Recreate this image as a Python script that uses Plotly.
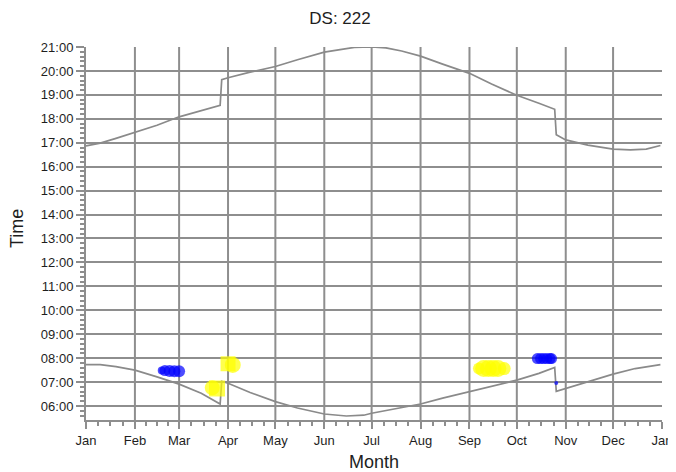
import plotly.graph_objects as go
import pandas as pd

# ---------------- data ----------------
month_ticks = ["2021-01-01", "2021-02-01", "2021-03-01", "2021-04-01", "2021-05-01",
               "2021-06-01", "2021-07-01", "2021-08-01", "2021-09-01", "2021-10-01",
               "2021-11-01", "2021-12-01", "2022-01-01"]
month_labels = ["Jan", "Feb", "Mar", "Apr", "May", "Jun", "Jul", "Aug", "Sep", "Oct",
                "Nov", "Dec", "Jan"]

sunset_dates = ["2021-01-01", "2021-01-10", "2021-01-20", "2021-02-01", "2021-02-15",
                "2021-03-01", "2021-03-15", "2021-03-27", "2021-03-28", "2021-04-01",
                "2021-04-15", "2021-05-01", "2021-05-15", "2021-06-01", "2021-06-10",
                "2021-06-20", "2021-07-01", "2021-07-10", "2021-07-20", "2021-08-01",
                "2021-08-15", "2021-09-01", "2021-09-15", "2021-10-01", "2021-10-15",
                "2021-10-25", "2021-10-26", "2021-11-01", "2021-11-15", "2021-12-01",
                "2021-12-12", "2021-12-22", "2021-12-31"]
sunset_times = ["16:52", "16:59", "17:11", "17:27", "17:44",
                "18:05", "18:20", "18:34", "19:38", "19:43",
                "19:57", "20:11", "20:28", "20:47", "20:53",
                "20:59", "21:00", "20:58", "20:50", "20:37",
                "20:17", "19:54", "19:27", "18:59", "18:39",
                "18:24", "17:20", "17:07", "16:54", "16:44",
                "16:42", "16:44", "16:53"]

sunrise_dates = ["2021-01-01", "2021-01-10", "2021-01-20", "2021-02-01", "2021-02-15",
                 "2021-03-01", "2021-03-15", "2021-03-27", "2021-03-28", "2021-04-01",
                 "2021-04-15", "2021-05-01", "2021-05-15", "2021-06-01", "2021-06-15",
                 "2021-06-26", "2021-07-01", "2021-07-15", "2021-08-01", "2021-08-15",
                 "2021-09-01", "2021-09-15", "2021-10-01", "2021-10-15", "2021-10-25",
                 "2021-10-26", "2021-11-01", "2021-11-15", "2021-12-01", "2021-12-15",
                 "2021-12-31"]
sunrise_times = ["07:44", "07:44", "07:39", "07:30", "07:13",
                 "06:55", "06:32", "06:05", "07:02", "06:57",
                 "06:34", "06:11", "05:55", "05:40", "05:35",
                 "05:37", "05:42", "05:53", "06:05", "06:20",
                 "06:36", "06:50", "07:05", "07:22", "07:37",
                 "06:37", "06:44", "07:02", "07:20", "07:34",
                 "07:44"]

# blue event clusters
blue_dates = ["2021-02-18", "2021-02-20", "2021-02-23", "2021-02-26", "2021-03-01",
              "2021-10-14", "2021-10-16", "2021-10-18", "2021-10-20", "2021-10-22", "2021-10-23",
              "2021-10-26"]
blue_times = ["07:29", "07:29", "07:28", "07:27", "07:27",
              "07:59", "07:59", "07:59", "07:59", "07:59", "07:59",
              "06:58"]
blue_sizes = [8, 11, 12, 12, 12,
              11, 11, 11, 11, 11, 11,
              4]

# yellow event clusters
yellow_dates = ["2021-04-01", "2021-04-04",
                "2021-03-25", "2021-03-22",
                "2021-09-07", "2021-09-10", "2021-09-13", "2021-09-16", "2021-09-19", "2021-09-23"]
yellow_times = ["07:46", "07:43",
                "06:44", "06:46",
                "07:34", "07:34", "07:34", "07:34", "07:34", "07:34"]
yellow_sizes = [15, 16,
                16, 15,
                12, 17, 17, 17, 17, 13]
yellow_symbols = ["square", "circle",
                  "square", "circle",
                  "circle", "circle", "circle", "circle", "circle", "circle"]

BASE_DAY = "2021-01-01 "


def as_time(ts):
    return [BASE_DAY + t for t in ts]


# ---------------- styling ----------------
GRID = "#8e8e8e"
LINE = "#8a8a8a"
TEXT = "#1e1e1e"
FONT = "Liberation Sans, Arial, sans-serif"

# The page body has an 8px default margin: size the figure so it fills the window.
OFF = 8
W, H = 676 - OFF, 472 - OFF
P_LEFT, P_RIGHT, P_TOP, P_BOTTOM = 86 - OFF, 662 - OFF, 47 - OFF, 420 - OFF

# minor x ticks: three evenly spaced between month starts
starts = pd.to_datetime(month_ticks)
minor_x = []
for a, b in zip(starts[:-1], starts[1:]):
    for k in (1, 2, 3):
        minor_x.append((a + (b - a) * k / 4).strftime("%Y-%m-%d %H:%M:%S"))

fig = go.Figure()

fig.add_trace(go.Scatter(x=sunset_dates, y=as_time(sunset_times), mode="lines",
                         line=dict(color=LINE, width=1.7), showlegend=False,
                         hoverinfo="skip"))
fig.add_trace(go.Scatter(x=sunrise_dates, y=as_time(sunrise_times), mode="lines",
                         line=dict(color=LINE, width=1.7), showlegend=False,
                         hoverinfo="skip"))
fig.add_trace(go.Scatter(x=yellow_dates, y=as_time(yellow_times), mode="markers",
                         marker=dict(color="#ffff00", size=yellow_sizes,
                                     symbol=yellow_symbols, line=dict(width=0)),
                         showlegend=False))
fig.add_trace(go.Scatter(x=blue_dates, y=as_time(blue_times), mode="markers",
                         marker=dict(color="#0000ff", size=blue_sizes,
                                     line=dict(width=0)),
                         showlegend=False))

fig.update_layout(
    width=W, height=H,
    margin=dict(l=P_LEFT, r=W - P_RIGHT, t=P_TOP, b=H - P_BOTTOM, autoexpand=False),
    paper_bgcolor="white", plot_bgcolor="white",
    font=dict(family=FONT, size=13, color=TEXT),
    title=dict(text="DS: 222", x=(340 - OFF) / W, xref="container", xanchor="center",
               y=1 - (18 - OFF) / H, yref="container", yanchor="middle",
               font=dict(family=FONT, size=17, color=TEXT)),
    showlegend=False,
)

# vertical month grid lines (interior months only; the reference has none at the right edge)
for m in month_ticks[1:-1]:
    fig.add_shape(type="line", x0=m, x1=m, y0=0, y1=1, xref="x", yref="paper",
                  line=dict(color=GRID, width=2), layer="below")

fig.update_xaxes(
    type="date", range=["2021-01-01", "2022-01-01"],
    tickmode="array", tickvals=month_ticks, ticktext=month_labels,
    showgrid=False,
    showline=True, linecolor=GRID, linewidth=2,
    ticks="outside", ticklen=7, tickwidth=2, tickcolor=GRID,
    tickfont=dict(family=FONT, size=13, color=TEXT),
    minor=dict(tickmode="array", tickvals=minor_x, ticks="outside", ticklen=4,
               tickwidth=1.5, tickcolor=GRID, showgrid=False),
    zeroline=False, fixedrange=True,
)

fig.update_yaxes(
    type="date", range=["2021-01-01 05:25", "2021-01-01 21:00"],
    tickformat="%H:%M", dtick=3600000, tick0="2021-01-01 00:00",
    showgrid=True, gridcolor=GRID, gridwidth=2,
    showline=True, linecolor=GRID, linewidth=2,
    ticks="outside", ticklen=8, tickwidth=2, tickcolor=GRID,
    tickfont=dict(family=FONT, size=13, color=TEXT),
    minor=dict(dtick=720000, tick0="2021-01-01 00:00", ticks="outside", ticklen=4,
               tickwidth=1.5, tickcolor=GRID, showgrid=False),
    zeroline=False, fixedrange=True,
)

pw, ph = P_RIGHT - P_LEFT, P_BOTTOM - P_TOP
fig.add_annotation(text="Month", xref="paper", yref="paper",
                   x=(374 - 86) / pw, y=(P_BOTTOM - (462 - OFF)) / ph,
                   xanchor="center", yanchor="middle", showarrow=False,
                   font=dict(family=FONT, size=18, color=TEXT))
fig.add_annotation(text="Time", textangle=-90, xref="paper", yref="paper",
                   x=((17 - OFF) - P_LEFT) / pw, y=(P_BOTTOM - (229 - OFF)) / ph,
                   xanchor="center", yanchor="middle", showarrow=False,
                   font=dict(family=FONT, size=18, color=TEXT))

fig.write_html("out.html")
